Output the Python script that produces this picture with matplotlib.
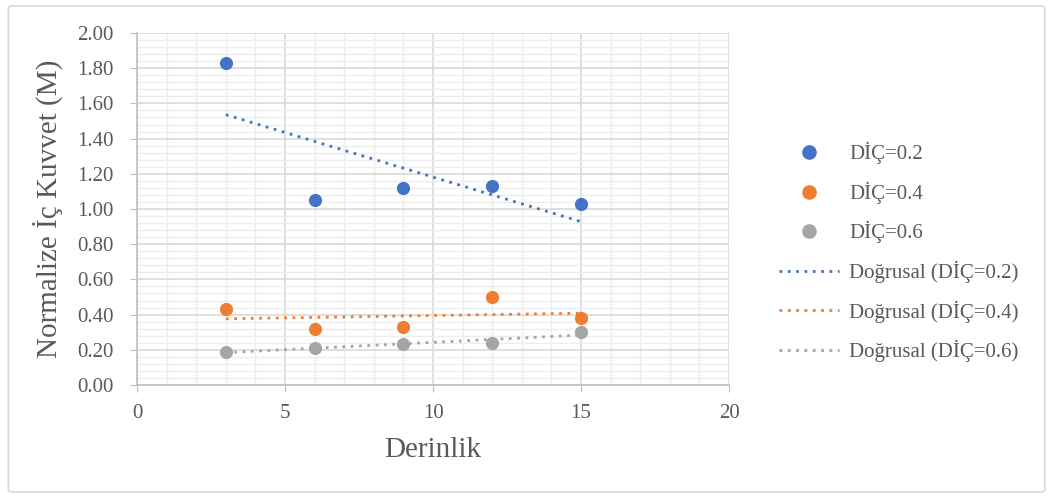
import numpy as np
import matplotlib.pyplot as plt
from matplotlib.lines import Line2D
from matplotlib.patches import FancyBboxPatch
from matplotlib.ticker import MultipleLocator, FormatStrFormatter

plt.rcParams['font.family'] = ['Liberation Serif', 'DejaVu Serif']

# data
depth = [3, 6, 9, 12, 15]
dic_02 = [1.83, 1.05, 1.12, 1.13, 1.03]
dic_04 = [0.43, 0.32, 0.33, 0.50, 0.38]
dic_06 = [0.19, 0.21, 0.23, 0.24, 0.30]
series_names = ['DİÇ=0.2', 'DİÇ=0.4', 'DİÇ=0.6']
colors = ['#4472C4', '#ED7D31', '#A5A5A5']

text_col = '#595959'
fig = plt.figure(figsize=(10.51, 4.97), dpi=100)
ax = fig.add_axes([0.1304, 0.2254, 0.5633, 0.7082])

# outer chart border
fig.patches.append(FancyBboxPatch((0.008, 0.01), 0.986, 0.978, boxstyle='round,pad=0,rounding_size=0.004',
                                  transform=fig.transFigure, fill=False, edgecolor='#d9d9d9', linewidth=1.2))

x = np.array(depth)
handles_pts, handles_fit = [], []
for ys, name, c in zip([dic_02, dic_04, dic_06], series_names, colors):
    ax.scatter(x, ys, s=90, color=c, zorder=3, linewidths=0)
    k, b = np.polyfit(x, ys, 1)
    ax.plot([x.min(), x.max()], [k * x.min() + b, k * x.max() + b], color=c,
            linewidth=2, linestyle=(0, (1, 2)), zorder=2)
    handles_pts.append(Line2D([], [], marker='o', linestyle='none', color=c, markersize=9.5))
    handles_fit.append(Line2D([], [], color=c, linewidth=2, linestyle=(0, (1, 2))))

ax.set_xlim(0, 20)
ax.set_ylim(0, 2.0)
ax.xaxis.set_major_locator(MultipleLocator(5))
ax.xaxis.set_minor_locator(MultipleLocator(1))
ax.yaxis.set_major_locator(MultipleLocator(0.2))
ax.yaxis.set_minor_locator(MultipleLocator(0.04))
ax.yaxis.set_major_formatter(FormatStrFormatter('%.2f'))
ax.grid(which='major', color='#d9d9d9', linewidth=1.2, zorder=0)
ax.grid(which='minor', color='#ededed', linewidth=1.0, zorder=0)
ax.set_axisbelow(True)
for s in ['top', 'right']:
    ax.spines[s].set_visible(False)
for s in ['left', 'bottom']:
    ax.spines[s].set_color('#bfbfbf')
    ax.spines[s].set_linewidth(1.2)
ax.tick_params(which='major', length=5, color='#bfbfbf', labelsize=15, labelcolor=text_col, pad=3)
ax.tick_params(which='minor', length=0)
ax.tick_params(axis='x', pad=9)
ax.tick_params(axis='y', pad=12)

ax.set_xlabel('Derinlik', fontsize=21, color=text_col, labelpad=10)
ax.set_ylabel('Normalize İç Kuvvet (M)', fontsize=21, color=text_col, labelpad=10)

labels = series_names + ['Doğrusal (%s)' % n for n in series_names]
leg = fig.legend(handles_pts + handles_fit, labels, loc='upper left', bbox_to_anchor=(0.723, 0.752),
                 frameon=False, fontsize=15, labelcolor=text_col, handlelength=2.9,
                 labelspacing=0.84, handletextpad=0.5)

fig.savefig('out.png', dpi=100)
